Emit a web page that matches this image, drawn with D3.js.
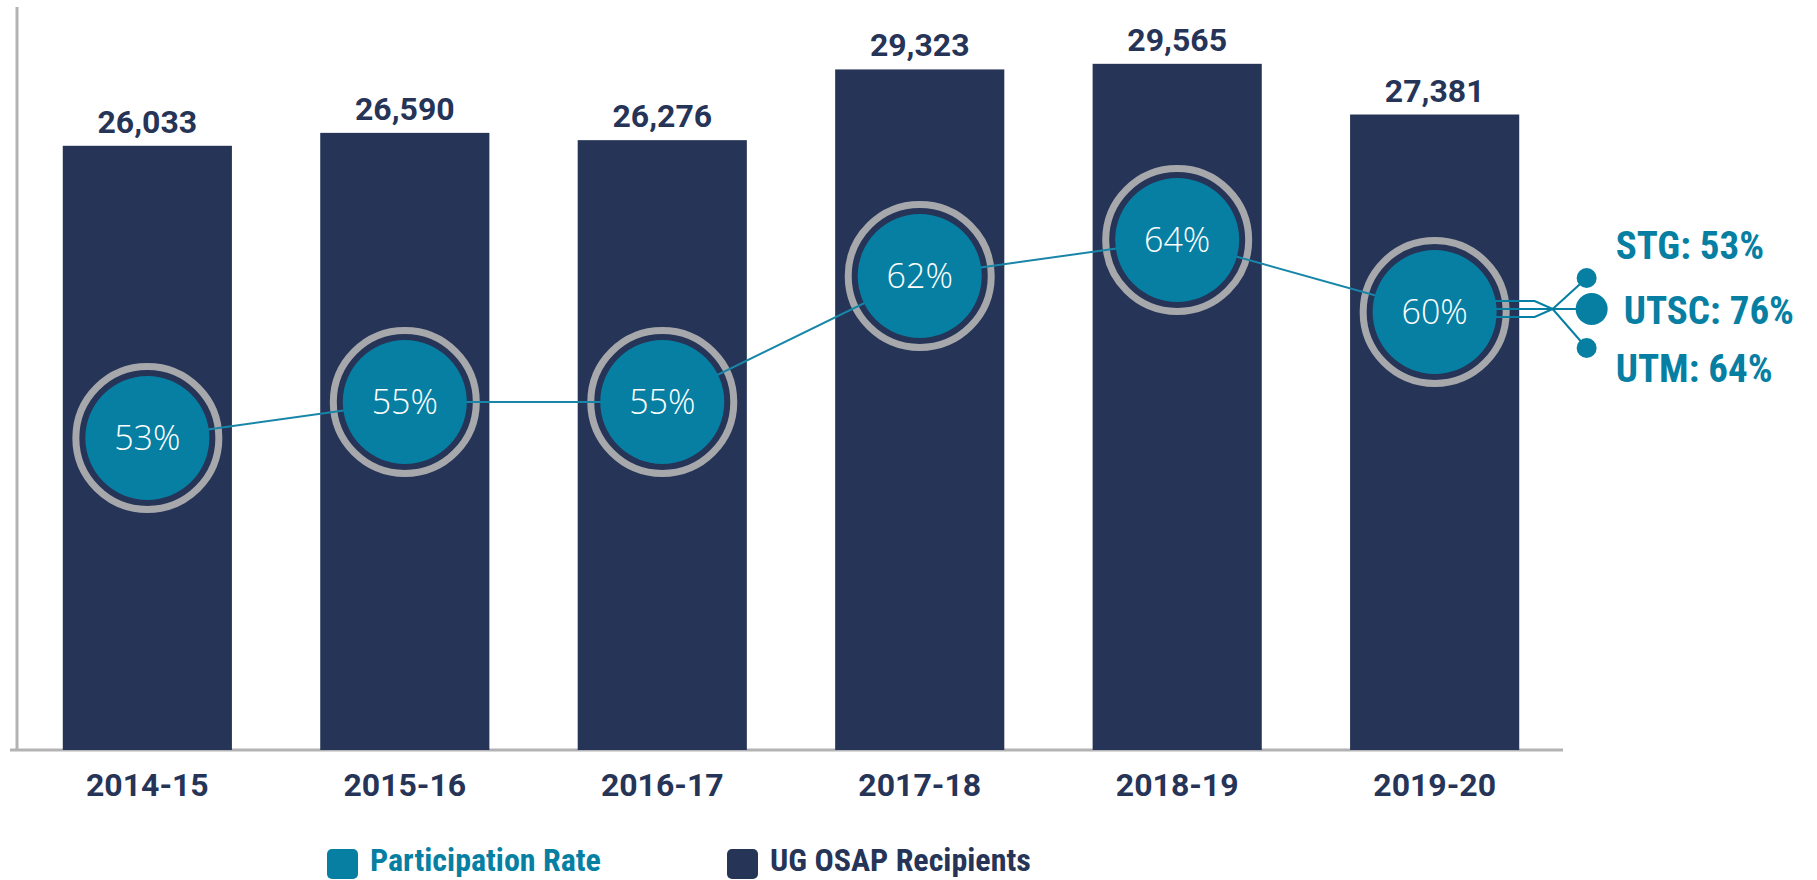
<!DOCTYPE html>
<html>
<head>
<meta charset="utf-8">
<script src="https://cdnjs.cloudflare.com/ajax/libs/d3/7.8.5/d3.min.js"></script>
<style>
    body { margin: 0; background: #fff; }
    svg { display: block; }
</style>
</head>
<body>
<script>
// data
var years = ["2014-15", "2015-16", "2016-17", "2017-18", "2018-19", "2019-20"];
var recipients = [26033, 26590, 26276, 29323, 29565, 27381];
var participation = [53, 55, 55, 62, 64, 60];
var campuses = ["STG", "UTSC", "UTM"];
var campusRates = [53, 76, 64];

var width = 1817, height = 880;
var navy = "#263457", teal = "#067fa3", ring = "#a6a8ab";
var narrow = "'Liberation Sans Narrow', 'Roboto Condensed', 'Arial Narrow', sans-serif";

var svg = d3.select("body").append("svg")
        .attr("width", width)
        .attr("height", height);

//Scales
var x = d3.scaleBand()
        .domain(years)
        .range([19, 1563])
        .paddingInner(0.343)
        .paddingOuter(0.17);

var y = d3.scaleLinear()
        .domain([0, 32000])
        .range([750, 7.3]);

// rate circles sit on their own scale
var yRate = d3.scaleLinear()
        .domain([50, 70])
        .range([492, 132]);

var cx = function(d, i) { return x(years[i]) + x.bandwidth() / 2; };

//Axes lines
svg.append("line")
        .attr("x1", 17).attr("x2", 17)
        .attr("y1", 7).attr("y2", y(0))
        .attr("stroke", "#b3b3b3")
        .attr("stroke-width", 3);

svg.append("line")
        .attr("x1", 10).attr("x2", 1563)
        .attr("y1", y(0)).attr("y2", y(0))
        .attr("stroke", "#b3b3b3")
        .attr("stroke-width", 3);

//Bars
svg.append("g")
        .selectAll("rect")
        .data(recipients)
        .enter().append("rect")
        .attr("x", function(d, i) { return x(years[i]); })
        .attr("y", function(d) { return y(d); })
        .attr("width", x.bandwidth())
        .attr("height", function(d) { return y(0) - y(d); })
        .attr("fill", navy);

svg.append("g")
        .selectAll("text")
        .data(recipients)
        .enter().append("text")
        .attr("x", cx)
        .attr("y", function(d) { return y(d) - 13; })
        .attr("text-anchor", "middle")
        .style("font-family", "Roboto, sans-serif")
        .style("font-weight", 700)
        .style("font-size", "32px")
        .attr("fill", navy)
        .text(function(d) { return d3.format(",")(d); });

//Year labels
svg.append("g")
        .selectAll("text")
        .data(years)
        .enter().append("text")
        .attr("x", function(d) { return x(d) + x.bandwidth() / 2; })
        .attr("y", 796)
        .attr("text-anchor", "middle")
        .style("font-family", "Roboto, sans-serif")
        .style("font-weight", 700)
        .style("font-size", "32px")
        .attr("fill", navy)
        .text(function(d) { return d; });

//Rate circles: outer ring first, then the line, then the teal discs
svg.append("g")
        .selectAll("circle")
        .data(participation)
        .enter().append("circle")
        .attr("cx", cx)
        .attr("cy", function(d) { return yRate(d); })
        .attr("r", 71.5)
        .attr("fill", navy)
        .attr("stroke", ring)
        .attr("stroke-width", 7);

var line = d3.line()
        .x(function(d, i) { return cx(d, i); })
        .y(function(d) { return yRate(d); });

svg.append("path")
        .datum(participation)
        .attr("d", line)
        .attr("fill", "none")
        .attr("stroke", "#1886a8")
        .attr("stroke-width", 2);

svg.append("g")
        .selectAll("circle")
        .data(participation)
        .enter().append("circle")
        .attr("cx", cx)
        .attr("cy", function(d) { return yRate(d); })
        .attr("r", 62)
        .attr("fill", teal);

svg.append("g")
        .selectAll("text")
        .data(participation)
        .enter().append("text")
        .attr("x", cx)
        .attr("y", function(d) { return yRate(d); })
        .attr("dy", "0.36em")
        .attr("text-anchor", "middle")
        .style("font-family", "'Open Sans', sans-serif")
        .style("font-weight", 300)
        .style("font-size", "34px")
        .attr("fill", "#fff")
        .text(function(d) { return d + "%"; });

//Campus breakdown off the last circle
var last = participation.length - 1;
var lx = cx(null, last), ly = yRate(participation[last]);
var dots = [[152, -34, 10], [157, -3, 16], [152, 36, 10]];
var labels = [[181, -53], [189, 12], [181, 70]];
var starts = [-11, -3, 5];

var branch = svg.append("g");
campuses.forEach(function(c, i) {
    var p = d3.path();
    p.moveTo(lx + 60, ly + starts[i]);
    p.lineTo(lx + 100, ly + starts[i]);
    p.lineTo(lx + 118, ly - 3);
    p.lineTo(lx + dots[i][0], ly + dots[i][1]);
    branch.append("path")
            .attr("d", p.toString())
            .attr("fill", "none")
            .attr("stroke", teal)
            .attr("stroke-width", 2);
    branch.append("circle")
            .attr("cx", lx + dots[i][0])
            .attr("cy", ly + dots[i][1])
            .attr("r", dots[i][2])
            .attr("fill", teal);
    branch.append("text")
            .attr("x", lx + labels[i][0])
            .attr("y", ly + labels[i][1])
            .style("font-family", narrow)
            .style("font-weight", 700)
            .style("font-size", "39px")
            .attr("fill", teal)
            .text(c + ": " + campusRates[i] + "%");
});

//Legend
var legend = [["Participation Rate", teal, 327], ["UG OSAP Recipients", navy, 727]];
var lg = svg.append("g");
legend.forEach(function(l) {
    lg.append("rect")
            .attr("x", l[2]).attr("y", 849)
            .attr("width", 31).attr("height", 30)
            .attr("rx", 5)
            .attr("fill", l[1]);
    lg.append("text")
            .attr("x", l[2] + 43)
            .attr("y", 871)
            .style("font-family", narrow)
            .style("font-weight", 700)
            .style("font-size", "32px")
            .attr("fill", l[1])
            .text(l[0]);
});
</script>
</body>
</html>
